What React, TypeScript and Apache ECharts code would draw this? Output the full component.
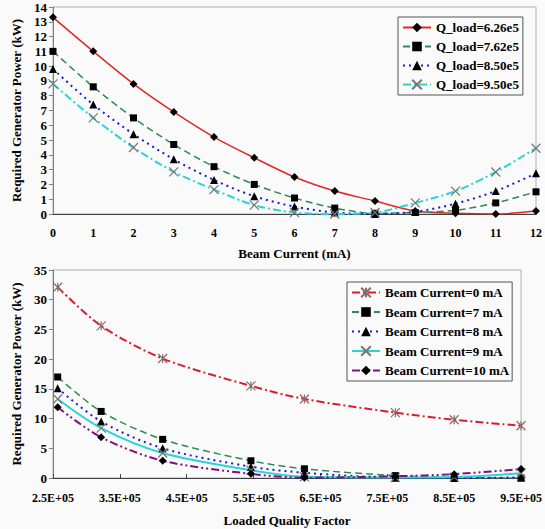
import React, { useEffect, useRef } from "react";
import * as echarts from "echarts";

// ---- Top chart data: Required generator power (kW) vs beam current (mA)
const beamCurrent = [0, 1, 2, 3, 4, 5, 6, 7, 8, 9, 10, 11, 12];
const qLoadNames = ["Q_load=6.26e5", "Q_load=7.62e5", "Q_load=8.50e5", "Q_load=9.50e5"];
const qload626 = [13.3, 11.0, 8.8, 6.9, 5.2, 3.8, 2.5, 1.55, 0.88, 0.2, 0.05, 0.0, 0.2];
const qload762 = [11.0, 8.6, 6.5, 4.7, 3.2, 2.0, 1.08, 0.4, 0.05, 0.1, 0.25, 0.75, 1.5];
const qload850 = [9.8, 7.4, 5.4, 3.7, 2.3, 1.2, 0.5, 0.1, 0.0, 0.15, 0.7, 1.55, 2.75];
const qload950 = [8.8, 6.5, 4.5, 2.85, 1.65, 0.6, 0.1, 0.0, 0.1, 0.75, 1.55, 2.84, 4.45];

// ---- Bottom chart data: Required generator power (kW) vs loaded quality factor
const loadedQ = [2.57e5, 3.22e5, 4.14e5, 5.46e5, 6.26e5, 7.62e5, 8.5e5, 9.5e5];
const beamNames = [
  "Beam Current=0 mA",
  "Beam Current=7 mA",
  "Beam Current=8 mA",
  "Beam Current=9 mA",
  "Beam Current=10 mA",
];
const bc0 = [32.1, 25.6, 20.1, 15.5, 13.3, 11.0, 9.8, 8.8];
const bc7 = [17.0, 11.2, 6.5, 2.9, 1.55, 0.4, 0.1, 0.0];
const bc8 = [15.1, 9.5, 5.0, 1.9, 0.88, 0.05, 0.0, 0.1];
const bc9 = [13.3, 8.4, 4.2, 1.3, 0.2, 0.1, 0.15, 0.8];
const bc10 = [11.9, 6.85, 2.9, 0.7, 0.05, 0.3, 0.65, 1.5];

const Q_OFFSET = 2.5e5;

const FONT = "'Liberation Serif', 'Times New Roman', serif";
const X_SYMBOL = "path://M0,0L10,10M10,0L0,10";
const STAR_SYMBOL = "path://M0,0L10,10M10,0L0,10M5,0L5,10";

export default function App() {
  const ref = useRef<HTMLDivElement>(null);

  useEffect(() => {
    document.body.style.margin = "0";
    if (!ref.current) return;
    const chart = echarts.init(ref.current, null, { renderer: "svg" });

    const axisLabel = { fontFamily: FONT, fontWeight: "bold", fontSize: 12, color: "#000" };
    const nameStyle = { fontFamily: FONT, fontWeight: "bold", fontSize: 13, color: "#000" };

    const mk = (
      name: string,
      xIdx: number,
      data: number[][],
      lineColor: string,
      dash: any,
      symbol: string,
      symbolSize: number,
      markerColor: string,
      stroke?: string,
      width = 1.5
    ) => ({
      type: "line",
      name,
      xAxisIndex: xIdx,
      yAxisIndex: xIdx,
      data,
      smooth: 0.3,
      symbol,
      symbolSize,
      showAllSymbol: true,
      lineStyle: { color: lineColor, type: dash, width },
      itemStyle: stroke
        ? { color: "rgba(0,0,0,0)", borderColor: stroke, borderWidth: 1.2 }
        : { color: markerColor, borderWidth: 0 },
      clip: true,
    });

    const topData = (arr: number[]) => beamCurrent.map((x, i) => [x, arr[i]]);
    const botData = (arr: number[]) => loadedQ.map((q, i) => [q - Q_OFFSET, arr[i]]);

    const legendText = { fontFamily: FONT, fontWeight: "bold", fontSize: 13, color: "#000", lineHeight: 12 };

    const option: any = {
      animation: false,
      backgroundColor: "#fafafa",
      grid: [
        { left: 53, top: 7, right: 9, height: 207, show: true, borderColor: "#b0b0b0", borderWidth: 1, backgroundColor: "transparent" },
        { left: 53, top: 270, right: 20, height: 208, show: true, borderColor: "#b0b0b0", borderWidth: 1, backgroundColor: "transparent" },
      ],
      xAxis: [
        {
          type: "value",
          gridIndex: 0,
          min: 0,
          max: 12,
          interval: 1,
          name: "Beam Current (mA)",
          nameLocation: "middle",
          nameGap: 33,
          nameTextStyle: nameStyle,
          axisLine: { lineStyle: { color: "#404040", width: 1 } },
          axisTick: { show: false },
          axisLabel: { ...axisLabel, margin: 13 },
          splitLine: { show: false },
        },
        {
          type: "value",
          gridIndex: 1,
          min: 0,
          max: 7e5,
          interval: 1e5,
          name: "Loaded Quality Factor",
          nameLocation: "middle",
          nameGap: 36,
          nameTextStyle: nameStyle,
          axisLine: { lineStyle: { color: "#404040", width: 1 } },
          axisTick: { show: true, inside: true, length: 4, lineStyle: { color: "#404040" } },
          axisLabel: {
            ...axisLabel,
            margin: 14,
            formatter: (v: number) => ((v + Q_OFFSET) / 1e5).toFixed(1) + "E+05",
          },
          splitLine: { show: false },
        },
      ],
      yAxis: [
        {
          type: "value",
          gridIndex: 0,
          min: 0,
          max: 14,
          interval: 1,
          name: "Required Generator Power (kW)",
          nameLocation: "middle",
          nameGap: 30,
          nameTextStyle: nameStyle,
          axisLine: { show: true, lineStyle: { color: "#808080", width: 1 } },
          axisTick: { show: true, length: 4, lineStyle: { color: "#808080" } },
          axisLabel: { ...axisLabel, fontSize: 13, margin: 6 },
          splitLine: { show: false },
        },
        {
          type: "value",
          gridIndex: 1,
          min: 0,
          max: 35,
          interval: 5,
          name: "Required Generator Power (kW)",
          nameLocation: "middle",
          nameGap: 30,
          nameTextStyle: nameStyle,
          axisLine: { show: true, lineStyle: { color: "#808080", width: 1 } },
          axisTick: { show: true, length: 4, lineStyle: { color: "#808080" } },
          axisLabel: { ...axisLabel, fontSize: 13, margin: 6 },
          splitLine: { show: false },
        },
      ],
      legend: [
        {
          data: qLoadNames,
          orient: "vertical",
          left: 398,
          top: 17,
          itemWidth: 28,
          itemHeight: 12,
          itemGap: 6,
          padding: [4, 4, 4, 4],
          borderColor: "#555",
          borderWidth: 1,
          backgroundColor: "#fafafa",
          textStyle: legendText,
        },
        {
          data: beamNames,
          orient: "vertical",
          left: 347,
          top: 282,
          itemWidth: 28,
          itemHeight: 12,
          itemGap: 6.5,
          padding: [4, 3, 4, 4],
          borderColor: "#555",
          borderWidth: 1,
          backgroundColor: "#fafafa",
          textStyle: legendText,
        },
      ],
      series: [
        mk(qLoadNames[0], 0, topData(qload626), "#e02828", "solid", "diamond", 8, "#000"),
        mk(qLoadNames[1], 0, topData(qload762), "#2e8b57", [7, 4], "rect", 7, "#000"),
        mk(qLoadNames[2], 0, topData(qload850), "#1c1cc8", [2, 4], "triangle", 8, "#000", undefined, 2),
        mk(qLoadNames[3], 0, topData(qload950), "#2ad4d4", [8, 3, 2, 3], X_SYMBOL, 9, "#777", "#777", 2),
        mk(beamNames[0], 1, botData(bc0), "#d81e2e", [8, 3, 2, 3], STAR_SYMBOL, 9, "#8a6a6a", "#8a6a6a", 2),
        mk(beamNames[1], 1, botData(bc7), "#2e8b57", [7, 4], "rect", 7, "#000"),
        mk(beamNames[2], 1, botData(bc8), "#1c1cc8", [2, 4], "triangle", 8, "#000", undefined, 2),
        mk(beamNames[3], 1, botData(bc9), "#2ad4d4", "solid", X_SYMBOL, 9, "#777", "#777", 2),
        mk(beamNames[4], 1, botData(bc10), "#801080", [8, 3, 2, 3, 2, 3], "diamond", 8, "#000", undefined, 2),
      ],
    };

    chart.setOption(option);
    return () => chart.dispose();
  }, []);

  return <div ref={ref} style={{ width: 545, height: 529 }} />;
}
